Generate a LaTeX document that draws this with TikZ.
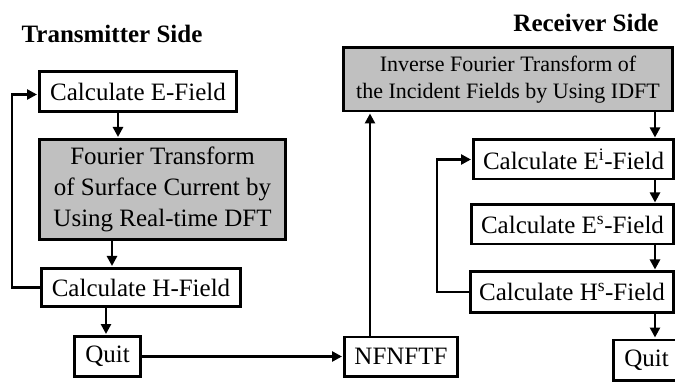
\documentclass[tikz,border=0pt]{standalone}
\usepackage{fontspec}
\setmainfont{Liberation Serif}
\usetikzlibrary{positioning,arrows.meta}
\definecolor{boxgray}{RGB}{192,192,192}

\begin{document}
\begin{tikzpicture}[x=1pt, y=-1pt, line width=2.6pt, >={Triangle[length=10pt,width=10pt]}, shorten >=1pt,
    box/.style={rectangle, draw, line width=2.6pt, inner sep=0pt, minimum height=39.4pt, align=center, font=\fontsize{25}{31}\selectfont},
    grbox/.style={box, fill=boxgray},
    title/.style={font=\bfseries\fontsize{25}{30}\selectfont}]
    \useasboundingbox (0,0) rectangle (675,382);

    % transmitter side
    \node[title] (txtitle) at (112,34) {Transmitter Side};
    \node[box, minimum width=197.4pt, minimum height=40.4pt, anchor=north west] (efield) at (38,70) {Calculate E-Field};
    \node[grbox, minimum width=246.4pt, minimum height=100.4pt, below right=25pt and 0pt of efield.south west] (dft) {Fourier Transform\\of Surface Current by\\Using Real-time DFT};
    \node[box, minimum width=199.4pt, minimum height=38.4pt, below right=26pt and 2pt of dft.south west] (hfield) {Calculate H-Field};
    \node[box, minimum width=66.4pt, minimum height=40.4pt, below right=27pt and 33pt of hfield.south west] (quittx) {Quit};
    \node[box, minimum width=113.4pt, right=201pt of quittx] (nfnftf) {NFNFTF};

    % receiver side
    \node[title] (rxtitle) at (586,23) {Receiver Side};
    \node[grbox, minimum width=329.4pt, minimum height=63.4pt, font=\fontsize{22}{27}\selectfont, above right=223pt and -1pt of nfnftf.north west] (idft) {Inverse Fourier Transform of\\the Incident Fields by Using IDFT};
    \node[box, minimum width=200.4pt, below left=26pt and -1pt of idft.south east] (ei) {Calculate E\textsuperscript{i}-Field};
    \node[box, minimum width=202.4pt, below left=23pt and 0pt of ei.south east] (es) {Calculate E\textsuperscript{s}-Field};
    \node[box, minimum width=203.4pt, minimum height=40.4pt, below left=25pt and 0pt of es.south east] (hs) {Calculate H\textsuperscript{s}-Field};
    \node[box, minimum width=66.4pt, minimum height=40.4pt, below right=25pt and -63pt of hs.south east] (quitrx) {Quit};

    % connectors
    \draw[->] ([xshift=-20pt]efield.south) -- ([xshift=-20pt]efield.south |- dft.north);
    \draw[->] ([xshift=-50.5pt]dft.south) -- ([xshift=-50.5pt]dft.south |- hfield.north);
    \draw[->] ([xshift=-35pt]hfield.south) -- ([xshift=-35pt]hfield.south |- quittx.north);
    \draw[->] (hfield.west) -- ++(-28pt,0) |- ([yshift=-3pt]efield.west);
    \draw[->] (quittx.east) -- (quittx.east -| nfnftf.west);
    \draw[->] ([xshift=-31pt]nfnftf.north) -- ([xshift=-31pt]nfnftf.north |- idft.south);
    \draw[->] ([xshift=-19pt]idft.south east) -- ([xshift=-19pt]idft.south east |- ei.north);
    \draw[->] ([xshift=-20pt]ei.south east) -- ([xshift=-20pt]ei.south east |- es.north);
    \draw[->] ([xshift=-20pt]es.south east) -- ([xshift=-20pt]es.south east |- hs.north);
    \draw[->] ([xshift=-20pt]hs.south east) -- ([xshift=-20pt]hs.south east |- quitrx.north);
    \draw[->] (hs.west) -- ++(-32pt,0) |- (ei.west);
\end{tikzpicture}
\end{document}
